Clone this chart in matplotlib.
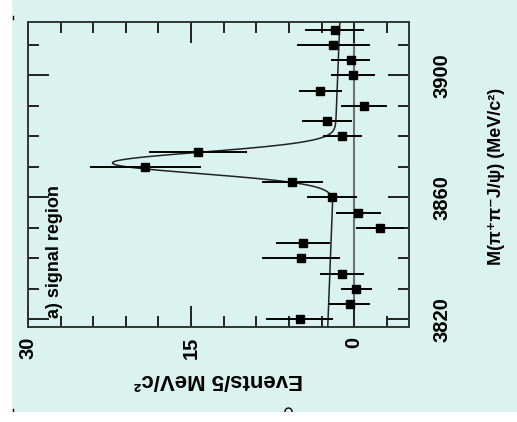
import numpy as np
import matplotlib
matplotlib.use('Agg')
import matplotlib.pyplot as plt
from matplotlib.patches import Rectangle
from matplotlib.lines import Line2D

# pi+ pi- J/psi mass bins (MeV/c^2), events per 5 MeV bin and their errors
mass = [3820, 3825, 3830, 3835, 3840, 3845, 3850, 3855, 3860, 3865,
        3870, 3875, 3880, 3885, 3890, 3895, 3900, 3905, 3910, 3915]
events = [5.0, 0.4, -0.2, 1.1, 4.9, 4.7, -2.4, -0.4, 2.0, 5.7,
          19.2, 14.4, 1.1, 2.5, -0.9, 3.1, 0.1, 0.3, 1.9, 1.8]
errors = [3.1, 1.9, 1.4, 2.0, 3.6, 2.5, 2.2, 2.1, 2.3, 2.8,
          5.1, 4.5, 1.8, 2.3, 2.1, 2.0, 2.0, 1.8, 3.4, 2.7]

# fit: gaussian signal on top of a linear background
peak_mass = 3871.3
peak_sigma = 3.5
peak_height = 20.4
bkg_at_3820 = 2.40
bkg_slope = -0.0111

mass_ticks = [3820, 3860, 3900]
event_ticks = [30, 15, 0]

bg = '#daf3ef'
plt.rcParams['font.family'] = ['Liberation Sans', 'DejaVu Sans']
plt.rcParams['font.weight'] = 'bold'

fig = plt.figure(figsize=(5.17, 4.22), dpi=100)
fig.patch.set_facecolor('white')
fig.patches.append(Rectangle((12 / 517, 1 - 412 / 422), 1, 1, transform=fig.transFigure,
                             facecolor=bg, edgecolor='none', zorder=-10))

# the plot is drawn turned on its side: mass runs up, events run to the left
ax = fig.add_axes([28 / 517, 1 - 327 / 422, 380.5 / 517, 305 / 422])
ax.set_facecolor(bg)
ax.set_xlim(30, -5)
ax.set_ylim(3817.5, 3917.5)

ax.axvline(0, color='#707070', lw=1.5, zorder=1)

m = np.linspace(3817.5, 3917.5, 500)
fit = bkg_at_3820 + bkg_slope * (m - 3820) + peak_height * np.exp(-0.5 * ((m - peak_mass) / peak_sigma) ** 2)
ax.plot(fit, m, color='#222222', lw=1.1, zorder=2)

ax.errorbar(events, mass, xerr=errors, fmt='s', color='black', ms=6,
            elinewidth=1.4, capsize=0, zorder=3)

ax.set_xticks(event_ticks)
ax.set_xticklabels([str(t) for t in event_ticks], rotation=90, fontsize=14.5)
ax.set_xticks(np.arange(-3, 30, 3), minor=True)
ax.set_yticks(mass_ticks)
ax.set_yticklabels([str(t) for t in mass_ticks], rotation=90, fontsize=14.5, va='center')
ax.set_yticks(np.arange(3820, 3920, 10), minor=True)

ax.tick_params(which='both', direction='in', top=True, bottom=True, left=True, right=True,
               labelleft=False, labelright=True, labeltop=False, labelbottom=True,
               width=1.4, color='#222222')
ax.tick_params(which='major', length=15)
ax.tick_params(which='minor', length=8)
ax.tick_params(axis='x', pad=7)
ax.tick_params(axis='y', pad=17)
for s in ax.spines.values():
    s.set_color('#333333')
    s.set_linewidth(1.4)

ax.text(27.6, 3820.3, 'a) signal region', rotation=90, ha='center', va='bottom', fontsize=13)

fig.text(218 / 517, 1 - 379 / 422, 'Events/5 MeV/c²', rotation=180,
         ha='center', va='center', fontsize=16)
fig.text(496.5 / 517, 1 - 176.5 / 422, 'M(π⁺π⁻J/ψ) (MeV/c²)', rotation=90,
         ha='center', va='center', fontsize=13)

# small stray marks along the edge of the scan
fig.add_artist(Line2D([13 / 517, 13 / 517], [1 - 16 / 422, 1 - 19 / 422], color='black', lw=1))
fig.add_artist(Line2D([13 / 517, 13 / 517], [1 - 409 / 422, 1 - 412 / 422], color='black', lw=1))
fig.add_artist(Line2D([288 / 517], [1 - 411 / 422], marker='o', ms=5, mfc='none',
                      mec='black', mew=1))
fig.patches.append(Rectangle((0, 0), 1, 1 - 412 / 422, transform=fig.transFigure,
                             facecolor='white', edgecolor='none', zorder=5))

fig.savefig('out.png', dpi=100)
